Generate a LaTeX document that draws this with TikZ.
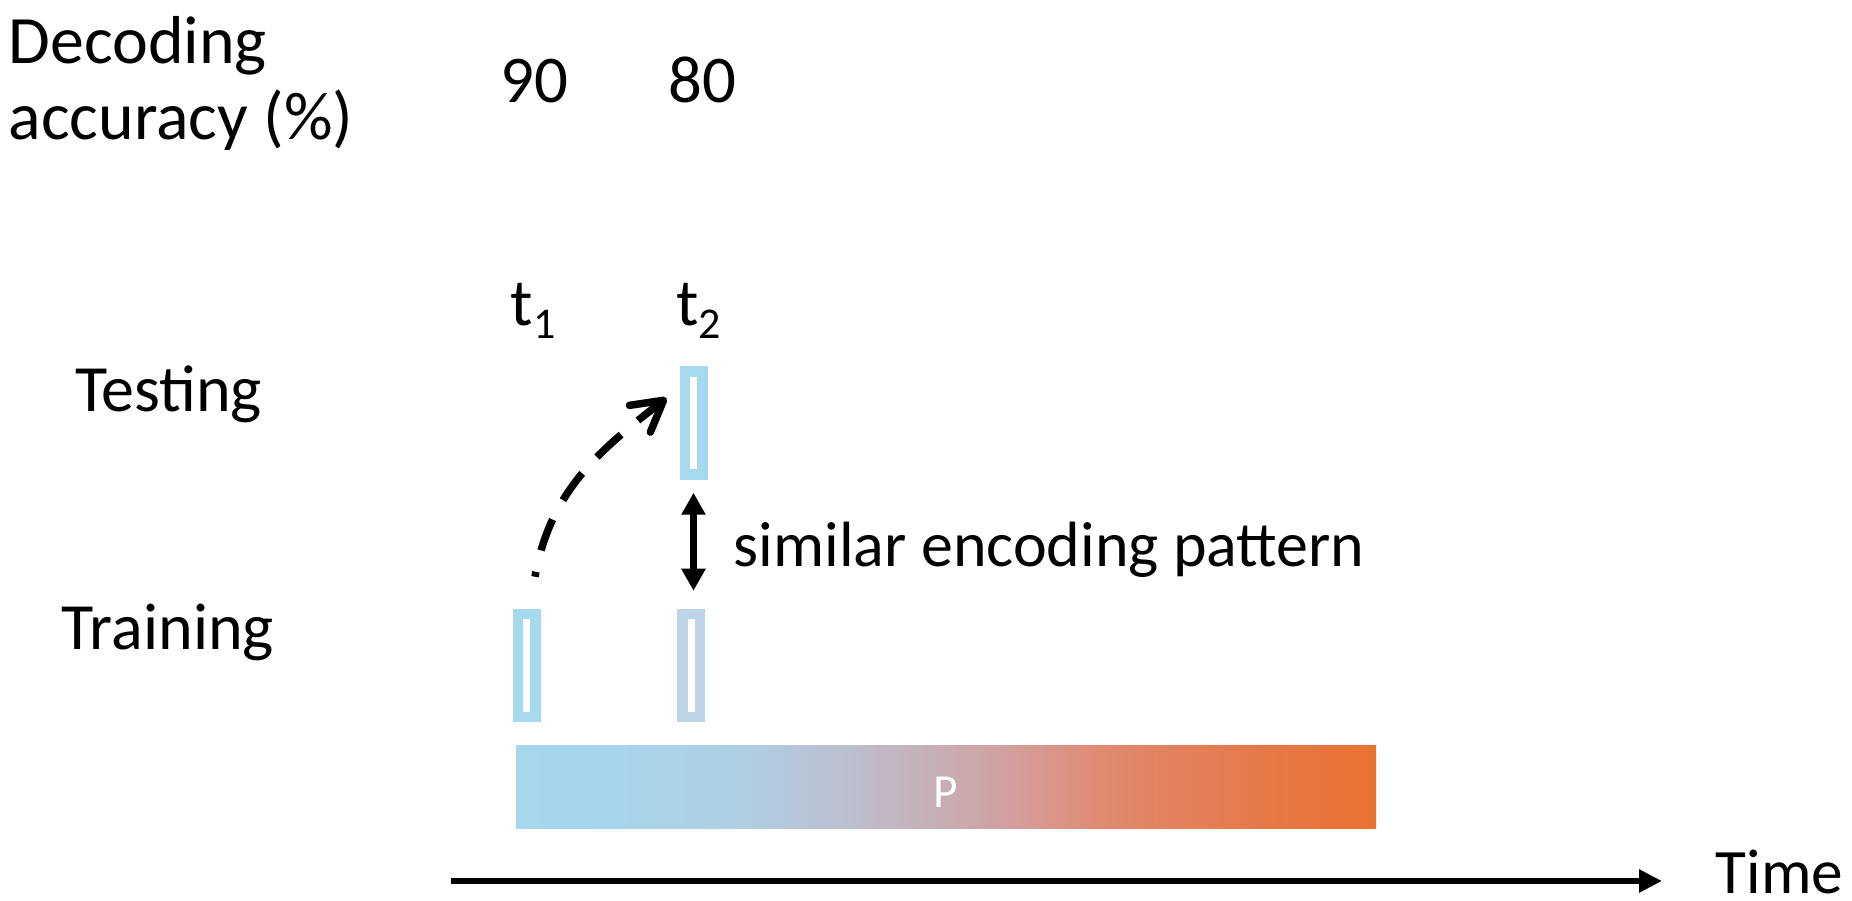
\documentclass[tikz,border=0pt]{standalone}
\usepackage{fontspec}
\setmainfont{Carlito}
\usepackage{tikz}
\usetikzlibrary{arrows.meta,calc,positioning}

\definecolor{slotblue}{RGB}{166,216,238}
\definecolor{slotgrey}{RGB}{189,211,232}

% blue -> orange band (the path covers 25bp..75bp)
\pgfdeclarehorizontalshading{pband}{100bp}{%
  rgb(0bp)=(0.647,0.843,0.929);
  rgb(25bp)=(0.647,0.843,0.929);
  rgb(31bp)=(0.655,0.835,0.922);
  rgb(37.5bp)=(0.682,0.812,0.894);
  rgb(43.5bp)=(0.729,0.761,0.824);
  rgb(50bp)=(0.784,0.675,0.698);
  rgb(53.5bp)=(0.824,0.627,0.620);
  rgb(58.5bp)=(0.871,0.549,0.463);
  rgb(62.5bp)=(0.886,0.510,0.373);
  rgb(68.5bp)=(0.902,0.471,0.282);
  rgb(75bp)=(0.914,0.443,0.196);
  rgb(100bp)=(0.914,0.443,0.196)}

\newcommand{\tsub}[1]{t\raisebox{-0.13cm}{\fontsize{12.5}{12.5}\selectfont #1}}

\begin{document}
\begin{tikzpicture}[
    txt/.style={inner sep=0pt, font=\fontsize{18.8}{22}\selectfont},
    slot/.style={draw=slotblue, fill=white, line width=0.105cm, inner sep=0pt,
                 minimum width=0.175cm, minimum height=1.03cm},
    recall/.style={line width=0.075cm, dash pattern=on 0.33cm off 0.22cm, dash phase=0.28cm,
                   -{Straight Barb[length=0.3cm, width=0.34cm, round]}},
    similar/.style={line width=0.075cm, {Triangle[length=0.22cm, width=0.23cm]}-{Triangle[length=0.22cm, width=0.23cm]}},
    timeaxis/.style={line width=0.06cm, -{Triangle[length=0.23cm, width=0.22cm]}}
]
\useasboundingbox (0,0) rectangle (18.52,9.01);

% Row labels
\node[txt, font=\fontsize{19.3}{22}\selectfont, anchor=base west] (dec) at (0.08,8.37) {Decoding};
\node[txt, font=\fontsize{19.3}{22}\selectfont, anchor=base west] (acc) at ([yshift=-0.76cm]dec.base west) {accuracy (\%)};
\node[txt, anchor=base] (test) at (1.685,4.89) {Testing};
\node[txt, anchor=base] (train) at (1.68,2.51) {Training};

% Accuracy values and time points
\node[txt, font=\fontsize{19}{22}\selectfont, anchor=base] (acc1) at (5.34,7.98) {90};
\node[txt, font=\fontsize{19}{22}\selectfont, anchor=base] (acc2) at (7.02,7.98) {80};
\node[txt, font=\fontsize{19}{22}\selectfont, anchor=base] (t1) at (5.33,5.75) {\tsub{1}};
\node[txt, font=\fontsize{19}{22}\selectfont, anchor=base] (t2) at (6.985,5.75) {\tsub{2}};

% Slots
\node[slot] (te2) at (6.935,4.78) {};
\node[slot] (tr1) at (5.265,2.355) {};
\node[slot, draw=slotgrey] (tr2) at (6.91,2.355) {};

% Train at t1, test at t2
\coordinate (from) at ($(tr1.north)+(0.085,0.32)$);
\coordinate (to) at ($(te2.west)+(-0.13,0.25)$);
\draw[recall] (from) to[out=80,in=218] (to);

% Same pattern at t2
\draw[similar, shorten <=0.13cm, shorten >=0.18cm] (te2.south) -- (te2.south |- tr2.north);
\node[txt, font=\fontsize{18.2}{22}\selectfont, anchor=base west] (pattern) at (7.33,3.34) {similar encoding pattern};

% Band
\node[shade, shading=pband, minimum width=8.6cm, minimum height=0.83cm, inner sep=0pt] (band) at (9.46,1.135) {};
\node[txt, font=\fontsize{13.5}{16}\selectfont, text=white] (p) at ([yshift=-0.05cm]band.center) {P};

% Time axis
\node[txt, font=\fontsize{18}{22}\selectfont, anchor=base west] (time) at (17.15,0.07) {Time};
\coordinate (t0) at (4.51,0.20);
\draw[timeaxis, shorten >=0.53cm] (t0) -- (t0 -| time.west);
\end{tikzpicture}
\end{document}
